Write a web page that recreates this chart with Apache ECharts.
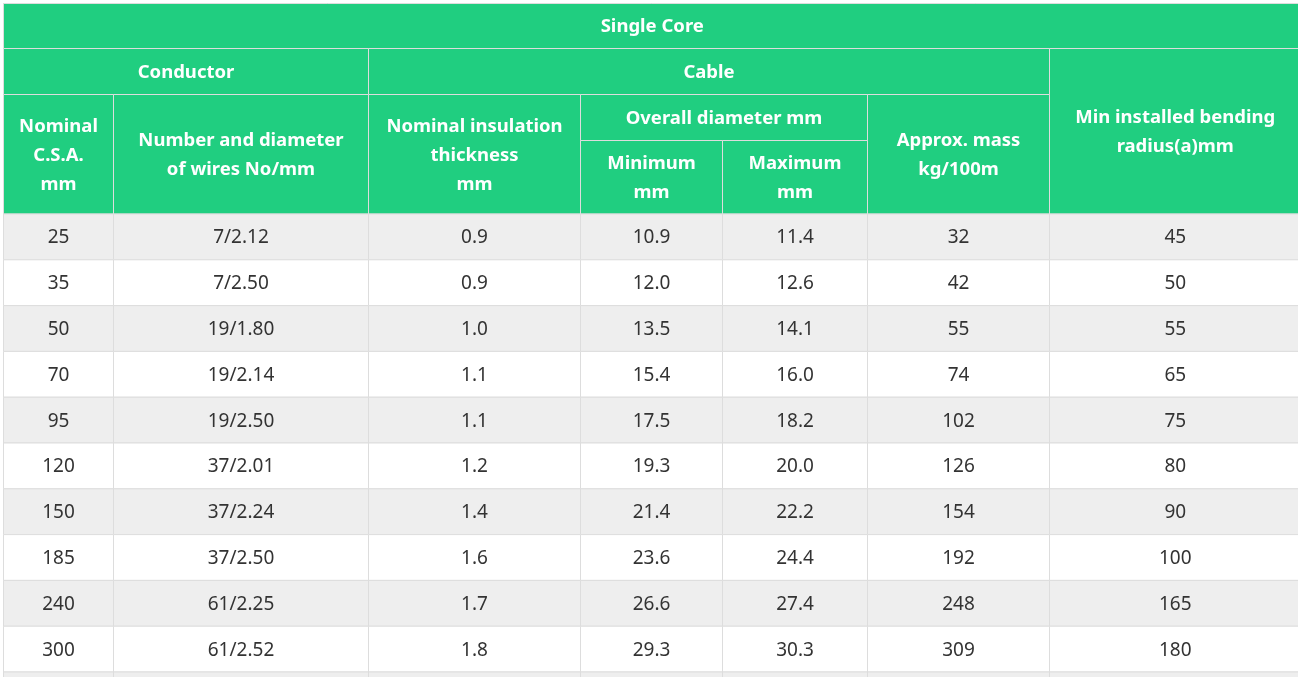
<!DOCTYPE html>
<html>
<head>
<meta charset="utf-8">
<script src="https://cdn.jsdelivr.net/npm/echarts@6/dist/echarts.min.js"></script>
<style>
html,body{margin:0;padding:0;background:#fff;}
#chart{width:1298px;height:677px;}
</style>
</head>
<body>
<div id="chart"></div>
<script>
// ---- data ----
const title = 'Single Core';
const groupLabels = ['Conductor', 'Cable'];
const columnLabels = ['Nominal\nC.S.A.\nmm', 'Number and diameter\nof wires No/mm', 'Nominal insulation\nthickness\nmm', 'Overall diameter mm', 'Approx. mass\nkg/100m', 'Min installed bending\nradius(a)mm'];
const subLabels = ['Minimum\nmm', 'Maximum\nmm'];

const csa = ['25', '35', '50', '70', '95', '120', '150', '185', '240', '300'];
const wires = ['7/2.12', '7/2.50', '19/1.80', '19/2.14', '19/2.50', '37/2.01', '37/2.24', '37/2.50', '61/2.25', '61/2.52'];
const insulation = ['0.9', '0.9', '1.0', '1.1', '1.1', '1.2', '1.4', '1.6', '1.7', '1.8'];
const minDiameter = ['10.9', '12.0', '13.5', '15.4', '17.5', '19.3', '21.4', '23.6', '26.6', '29.3'];
const maxDiameter = ['11.4', '12.6', '14.1', '16.0', '18.2', '20.0', '22.2', '24.4', '27.4', '30.3'];
const mass = ['32', '42', '55', '74', '102', '126', '154', '192', '248', '309'];
const bendRadius = ['45', '50', '55', '65', '75', '80', '90', '100', '165', '180'];

// ---- layout (axis units) ----
const colEdges = [3.5, 113.5, 368.5, 580.5, 722.5, 867.5, 1049.5, 1301];
const headRowEdges = [3.5, 48.5, 94.5, 140.5, 214];
const bodyTop = 214;
const bodyRowH = 45.8;

const GREEN = '#20ce80';
const BORDER = '#dddddd';

// cells: [x0, x1, yTop, yBottom, text, kind, fillColor]
const cells = [];
function head(c0, c1, r0, r1, text) {
  cells.push([colEdges[c0], colEdges[c1], headRowEdges[r0], headRowEdges[r1], text, 'head', GREEN]);
}
head(0, 7, 0, 1, title);
head(0, 2, 1, 2, groupLabels[0]);
head(2, 6, 1, 2, groupLabels[1]);
head(6, 7, 1, 4, columnLabels[5]);
head(0, 1, 2, 4, columnLabels[0]);
head(1, 2, 2, 4, columnLabels[1]);
head(2, 3, 2, 4, columnLabels[2]);
head(3, 5, 2, 3, columnLabels[3]);
head(5, 6, 2, 4, columnLabels[4]);
head(3, 4, 3, 4, subLabels[0]);
head(4, 5, 3, 4, subLabels[1]);

const bodyCols = [csa, wires, insulation, minDiameter, maxDiameter, mass, bendRadius];
const nRows = csa.length + 1; // extra partially visible row
for (let r = 0; r < nRows; r++) {
  const y0 = bodyTop + r * bodyRowH, y1 = y0 + bodyRowH;
  const fill = r % 2 === 0 ? '#eeeeee' : '#ffffff';
  for (let c = 0; c < 7; c++) {
    const txt = r < csa.length ? bodyCols[c][r] : '';
    cells.push([colEdges[c], colEdges[c + 1], y0, y1, txt, 'body', fill]);
  }
}

const chart = echarts.init(document.getElementById('chart'), null, {renderer: 'canvas'});
chart.setOption({
  backgroundColor: '#ffffff',
  animation: false,
  grid: {left: 0, right: 0, top: 0, bottom: 0},
  xAxis: {type: 'value', min: 0, max: 1298, show: false},
  yAxis: {type: 'value', min: 0, max: 677, inverse: true, show: false},
  series: [{
    type: 'custom',
    clip: true,
    data: cells,
    renderItem: function (params, api) {
      const d = cells[params.dataIndex];
      const p0 = api.coord([d[0], d[2]]);
      const p1 = api.coord([d[1], d[3]]);
      const isHead = d[5] === 'head';
      return {
        type: 'group',
        children: [{
          type: 'rect',
          shape: {x: p0[0], y: p0[1], width: p1[0] - p0[0], height: p1[1] - p0[1]},
          style: {fill: d[6], stroke: BORDER, lineWidth: 1}
        }, {
          type: 'text',
          style: {
            x: (p0[0] + p1[0]) / 2,
            y: (p0[1] + p1[1]) / 2 + 1,
            text: d[4],
            align: 'center',
            verticalAlign: 'middle',
            fill: isHead ? '#ffffff' : '#333333',
            font: isHead ? 'bold 18.5px "Noto Sans", sans-serif' : '19px "Noto Sans", sans-serif',
            lineHeight: 29
          }
        }]
      };
    }
  }]
});
</script>
</body>
</html>
